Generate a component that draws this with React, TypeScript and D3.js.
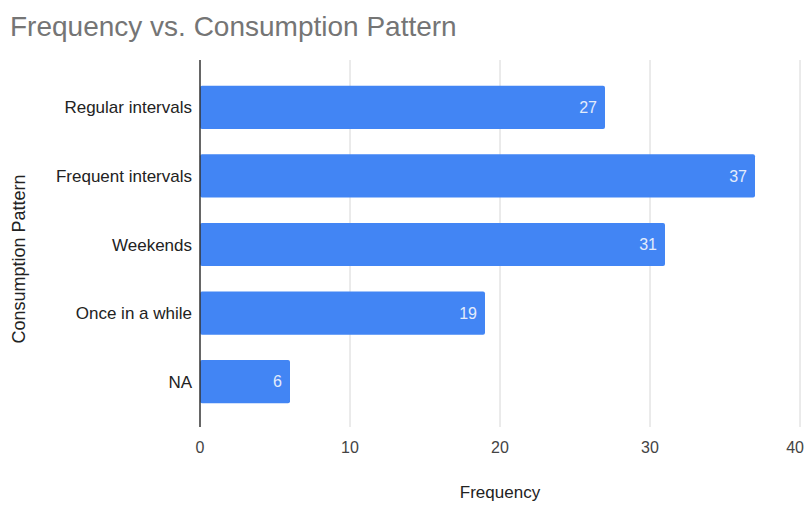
import React from "react";
import * as d3 from "d3";

const categories = ["Regular intervals", "Frequent intervals", "Weekends", "Once in a while", "NA"];
const frequencies = [27, 37, 31, 19, 6];
const xTicks = [0, 10, 20, 30, 40];

const W = 806;
const H = 506;
const FONT = "Arial, 'Liberation Sans', Helvetica, sans-serif";

export default function App() {
  const x = d3.scaleLinear().domain([0, 40]).range([200, 800]);
  const y = d3.scaleBand<string>().domain(categories).range([73, 416]).paddingInner(0.37).paddingOuter(0.185);
  const plotTop = 60;
  const plotBottom = 427;

  return (
    <svg width={W} height={H} style={{ position: "absolute", left: 0, top: 0, background: "#fff" }}>
      <text x={10} y={36} fontFamily={FONT} fontSize={28} fill="#757575">
        Frequency vs. Consumption Pattern
      </text>

      {xTicks.map((t) => {
        const last = t === xTicks[xTicks.length - 1];
        return (
          <g key={t}>
            {t > 0 && (
              <line x1={x(t)} x2={x(t)} y1={plotTop} y2={plotBottom} stroke="#d6d6d6" strokeWidth={1} />
            )}
            <text
              x={last ? W - 2 : x(t)}
              y={453}
              textAnchor={last ? "end" : "middle"}
              fontFamily={FONT}
              fontSize={16}
              fill="#444"
            >
              {t}
            </text>
          </g>
        );
      })}

      {categories.map((c, i) => {
        const v = frequencies[i];
        const y0 = y(c)!;
        const bw = y.bandwidth();
        return (
          <g key={c}>
            <rect x={x(0)} y={y0} width={x(v) - x(0)} height={bw} rx={2} fill="#4285f4" />
            <text
              x={x(v) - 8}
              y={y0 + bw / 2}
              dy="0.36em"
              textAnchor="end"
              fontFamily={FONT}
              fontSize={16}
              fill="#e3ecfb"
            >
              {v}
            </text>
            <text
              x={192}
              y={y0 + bw / 2}
              dy="0.36em"
              textAnchor="end"
              fontFamily={FONT}
              fontSize={17}
              fill="#222"
            >
              {c}
            </text>
          </g>
        );
      })}

      <line x1={x(0)} x2={x(0)} y1={plotTop} y2={plotBottom} stroke="#333" strokeWidth={1.5} />

      <text x={500} y={498} textAnchor="middle" fontFamily={FONT} fontSize={17} fill="#222">
        Frequency
      </text>
      <text
        transform={`translate(25, ${259}) rotate(-90)`}
        textAnchor="middle"
        fontFamily={FONT}
        fontSize={18}
        fill="#222"
      >
        Consumption Pattern
      </text>
    </svg>
  );
}
